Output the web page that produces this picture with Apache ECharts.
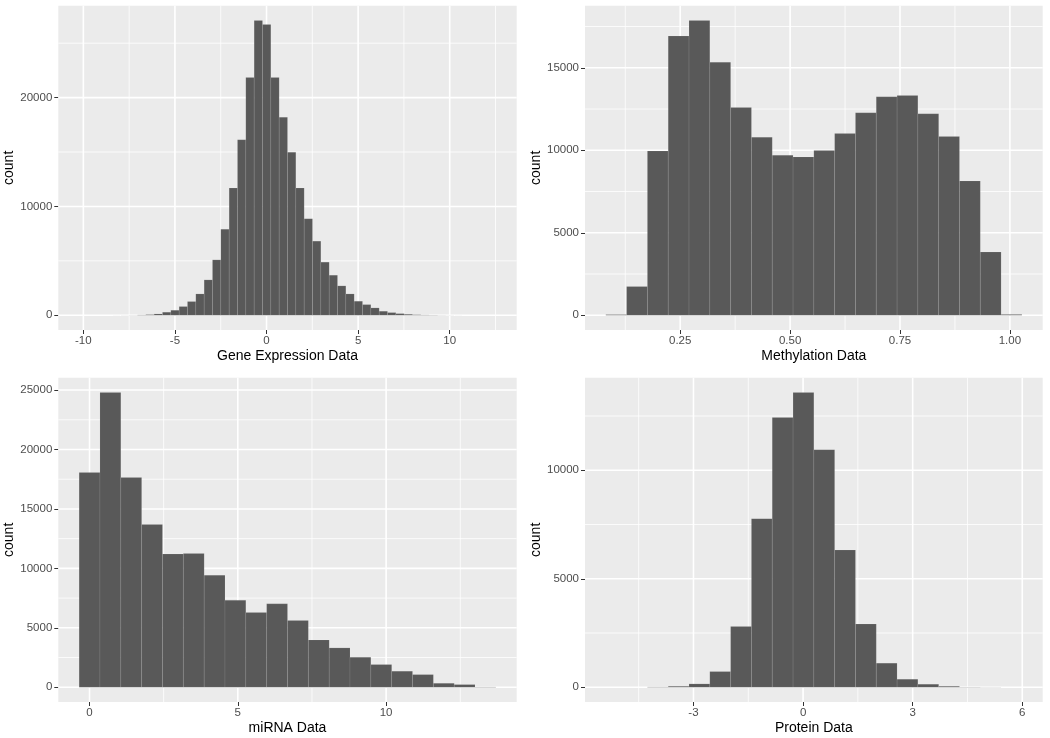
<!DOCTYPE html>
<html><head><meta charset="utf-8">
<script src="https://cdn.jsdelivr.net/npm/echarts@6/dist/echarts.min.js"></script>
<style>html,body{margin:0;padding:0;background:#fff}#c{width:1050px;height:738px}</style>
</head><body><div id="c"></div>
<script>
// ---------- data ----------
const geneStart = -10.23, geneWidth = 0.455;
const geneCounts = [1,0,1,2,3,5,10,30,60,
  120,280,460,800,1260,1960,3250,5090,7910,11690,16130,21840,27090,26720,21840,18190,
  14970,11690,8870,6810,4880,3680,2700,1960,1290,980,675,370,245,150,90,50,
  30,20,10,5,3,2,1,0,1];
const geneXTicks = [-10, -5, 0, 5, 10];
const geneYTicks = [0, 10000, 20000];

const methStart = 0.0807, methWidth = 0.04733;
const methCounts = [40,1740,9960,16920,17870,15340,12590,10790,9700,9600,
  9980,11010,12270,13240,13320,12210,10830,8140,3830,50];
const methXTicks = [0.25, 0.50, 0.75, 1.00];
const methYTicks = [0, 5000, 10000, 15000];

const mirnaStart = -0.35, mirnaWidth = 0.7025;
const mirnaCounts = [18070,24800,17650,13690,11200,11250,9430,7320,6285,7015,
  5610,3985,3310,2525,1910,1350,1065,335,225,25];
const mirnaXTicks = [0, 5, 10];
const mirnaYTicks = [0, 5000, 10000, 15000, 20000, 25000];

const protStart = -5.40, protWidth = 0.5695;
const protCounts = [1,0,15,45,155,723,2800,7770,12430,13585,
  10950,6320,2910,1110,370,140,45,10,5,1];
const protXTicks = [-3, 0, 3, 6];
const protYTicks = [0, 5000, 10000];

const xTitles = ['Gene Expression Data', 'Methylation Data', 'miRNA Data', 'Protein Data'];
const yTitle = 'count';

// ---------- layout / style ----------
const FONT = '"Liberation Sans", Arial, sans-serif';
const plain = v => String(v);
const panels = [
  {title:xTitles[0], start:geneStart, width:geneWidth, counts:geneCounts, xt:geneXTicks, yt:geneYTicks, fmt:plain,
   grid:{left:58.3, top:5.7, width:458.4, height:324.3}},
  {title:xTitles[1], start:methStart, width:methWidth, counts:methCounts, xt:methXTicks, yt:methYTicks, fmt:v=>v.toFixed(2),
   grid:{left:585, top:5.7, width:457.7, height:324.3}},
  {title:xTitles[2], start:mirnaStart, width:mirnaWidth, counts:mirnaCounts, xt:mirnaXTicks, yt:mirnaYTicks, fmt:plain,
   grid:{left:58.3, top:377.7, width:458.4, height:324.3}},
  {title:xTitles[3], start:protStart, width:protWidth, counts:protCounts, xt:protXTicks, yt:protYTicks, fmt:plain,
   grid:{left:585, top:377.7, width:457.7, height:324.3}}
];

function minors(ticks, lo, hi) {
  const step = ticks[1] - ticks[0];
  const out = ticks.map(t => t - step / 2);
  out.push(ticks[ticks.length - 1] + step / 2);
  return out.filter(v => v >= lo && v <= hi);
}

const grids = [], xAxes = [], yAxes = [], series = [];
panels.forEach((p, i) => {
  const n = p.counts.length;
  const span = n * p.width;
  const xr = [p.start - 0.05 * span, p.start + span + 0.05 * span];
  const ymax = Math.max(...p.counts);
  const yr = [-0.05 * ymax, 1.05 * ymax];
  const majX = p.xt.filter(v => v >= xr[0] && v <= xr[1]);
  const majY = p.yt.filter(v => v >= yr[0] && v <= yr[1]);
  const minX = minors(p.xt, xr[0], xr[1]);
  const minY = minors(p.yt, yr[0], yr[1]);

  grids.push(Object.assign({show:true, backgroundColor:'#ebebeb', borderWidth:0, containLabel:false}, p.grid));
  xAxes.push({
    gridIndex:i, type:'value', min:xr[0], max:xr[1],
    name:p.title, nameLocation:'middle', nameGap:19,
    nameTextStyle:{fontSize:14, color:'#000', fontFamily:FONT},
    axisLine:{show:false, onZero:false},
    axisTick:{show:true, customValues:p.xt, length:4, lineStyle:{color:'#333', width:1}},
    axisLabel:{customValues:p.xt, formatter:p.fmt, fontSize:11.5, color:'#4d4d4d', fontFamily:FONT, margin:5},
    splitLine:{show:false}
  });
  yAxes.push({
    gridIndex:i, type:'value', min:yr[0], max:yr[1],
    name:yTitle, nameLocation:'middle', nameGap:38,
    nameTextStyle:{fontSize:14, color:'#000', fontFamily:FONT},
    axisLine:{show:false, onZero:false},
    axisTick:{show:true, customValues:p.yt, length:4, lineStyle:{color:'#333', width:1}},
    axisLabel:{customValues:p.yt, formatter:plain, fontSize:11.5, color:'#4d4d4d', fontFamily:FONT, margin:6},
    splitLine:{show:false}
  });
  // grid lines through the axes' scales
  series.push({
    type:'custom', xAxisIndex:i, yAxisIndex:i, silent:true, z:1, data:[[xr[0], yr[0]]],
    renderItem(params, api) {
      const cs = params.coordSys;
      const ch = [];
      const add = (vals, vertical, w) => vals.forEach(v => {
        if (vertical) {
          const x = api.coord([v, 0])[0];
          ch.push({type:'line', shape:{x1:x, y1:cs.y, x2:x, y2:cs.y + cs.height}, style:{stroke:'#fff', lineWidth:w}});
        } else {
          const y = api.coord([0, v])[1];
          ch.push({type:'line', shape:{x1:cs.x, y1:y, x2:cs.x + cs.width, y2:y}, style:{stroke:'#fff', lineWidth:w}});
        }
      });
      add(minX, true, 0.8); add(minY, false, 0.8);
      add(majX, true, 1.6); add(majY, false, 1.6);
      return {type:'group', children:ch};
    }
  });
  // histogram bars
  series.push({
    type:'custom', xAxisIndex:i, yAxisIndex:i, z:2,
    data:p.counts.map((c, k) => [p.start + k * p.width, p.start + (k + 1) * p.width, c]),
    encode:{x:[0, 1], y:2},
    renderItem(params, api) {
      const a = api.coord([api.value(0), 0]);
      const b = api.coord([api.value(1), api.value(2)]);
      return {type:'rect', shape:{x:a[0], y:b[1], width:b[0] - a[0], height:a[1] - b[1]},
        style:{fill:'#595959', stroke:'rgba(255,255,255,0.14)', lineWidth:0.6}};
    }
  });
});

const chart = echarts.init(document.getElementById('c'), null, {renderer:'canvas'});
chart.setOption({animation:false, backgroundColor:'#fff', grid:grids, xAxis:xAxes, yAxis:yAxes, series:series});
</script></body></html>
